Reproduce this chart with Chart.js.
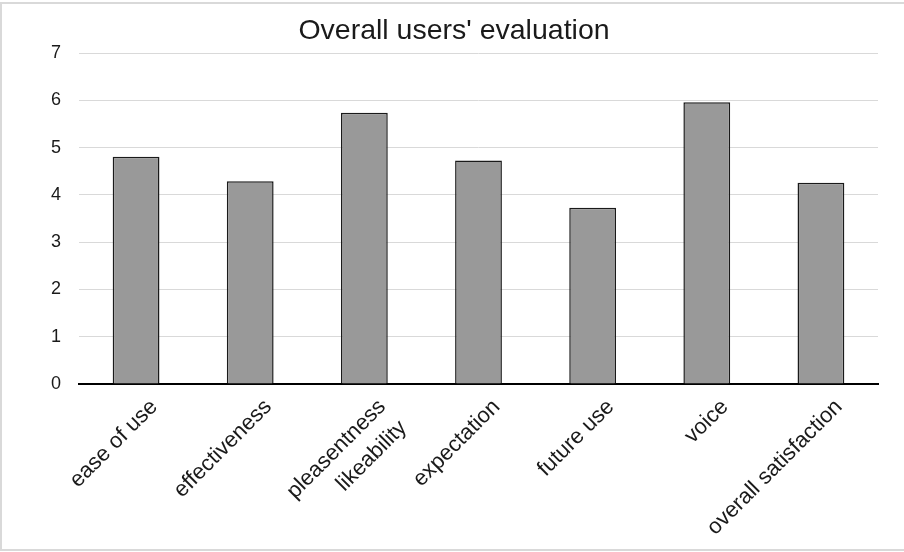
<!DOCTYPE html>
<html>
<head>
<meta charset="utf-8">
<script src="https://cdn.jsdelivr.net/npm/chart.js@4/dist/chart.umd.min.js"></script>
<style>
  html, body { margin: 0; padding: 0; background: #fff; }
  #wrap { width: 904px; height: 552px; position: relative; }
</style>
</head>
<body>
<div id="wrap"><canvas id="chart" width="904" height="552"></canvas></div>
<script>
// Mean ratings per evaluation dimension
const categories = [
  'ease of use',
  'effectiveness',
  ['pleasentness', 'likeability'],
  'expectation',
  'future use',
  'voice',
  'overall satisfaction'
];
const scores = [4.81, 4.29, 5.74, 4.73, 3.73, 5.96, 4.26];
const yTicks = [0, 1, 2, 3, 4, 5, 6, 7];
const chartTitle = "Overall users' evaluation";

const FONT = 'Arial, "Liberation Sans", Helvetica, sans-serif';
const TEXT = '#1a1a1a';

// Light frame around the whole figure
const framePlugin = {
  id: 'frame',
  beforeDraw(chart) {
    const ctx = chart.ctx;
    ctx.save();
    ctx.strokeStyle = '#d9d9d9';
    ctx.lineWidth = 2;
    ctx.strokeRect(1, 3, chart.width + 4, chart.height - 5);
    ctx.restore();
  }
};

new Chart(document.getElementById('chart'), {
  type: 'bar',
  data: {
    labels: categories,
    datasets: [{
      data: scores,
      backgroundColor: '#999999',
      borderColor: '#1a1a1a',
      borderWidth: 1.5,
      categoryPercentage: 1,
      barPercentage: 0.41
    }]
  },
  options: {
    responsive: false,
    animation: false,
    layout: { padding: { top: 12, left: 4, right: 0, bottom: 0 } },
    plugins: {
      legend: { display: false },
      tooltip: { enabled: false },
      title: {
        display: true,
        text: chartTitle,
        color: TEXT,
        font: { family: FONT, size: 28.5, weight: 'normal', lineHeight: 1.2 },
        padding: { top: 2, bottom: 5 }
      }
    },
    scales: {
      x: {
        grid: { display: false },
        border: { display: true, color: '#000000', width: 2 },
        ticks: {
          autoSkip: false,
          minRotation: 45,
          maxRotation: 45,
          padding: 1,
          labelOffset: 18,
          color: TEXT,
          font: { family: FONT, size: 22, lineHeight: 1.35 }
        },
        afterFit(scale) {
          scale.height = 168;
          scale.paddingLeft = 0;
          scale.paddingRight = 26;
        }
      },
      y: {
        min: 0,
        max: 7,
        grid: {
          drawTicks: false,
          lineWidth: 1,
          color: ctx => (ctx.tick && ctx.tick.value === 0) ? 'rgba(0,0,0,0)' : '#d9d9d9'
        },
        border: { display: false },
        ticks: {
          padding: 18,
          color: TEXT,
          font: { family: FONT, size: 18 }
        },
        afterBuildTicks(scale) {
          scale.ticks = yTicks.map(v => ({ value: v }));
        },
        afterFit(scale) {
          scale.width = 75;
        }
      }
    }
  },
  plugins: [framePlugin]
});
</script>
</body>
</html>
